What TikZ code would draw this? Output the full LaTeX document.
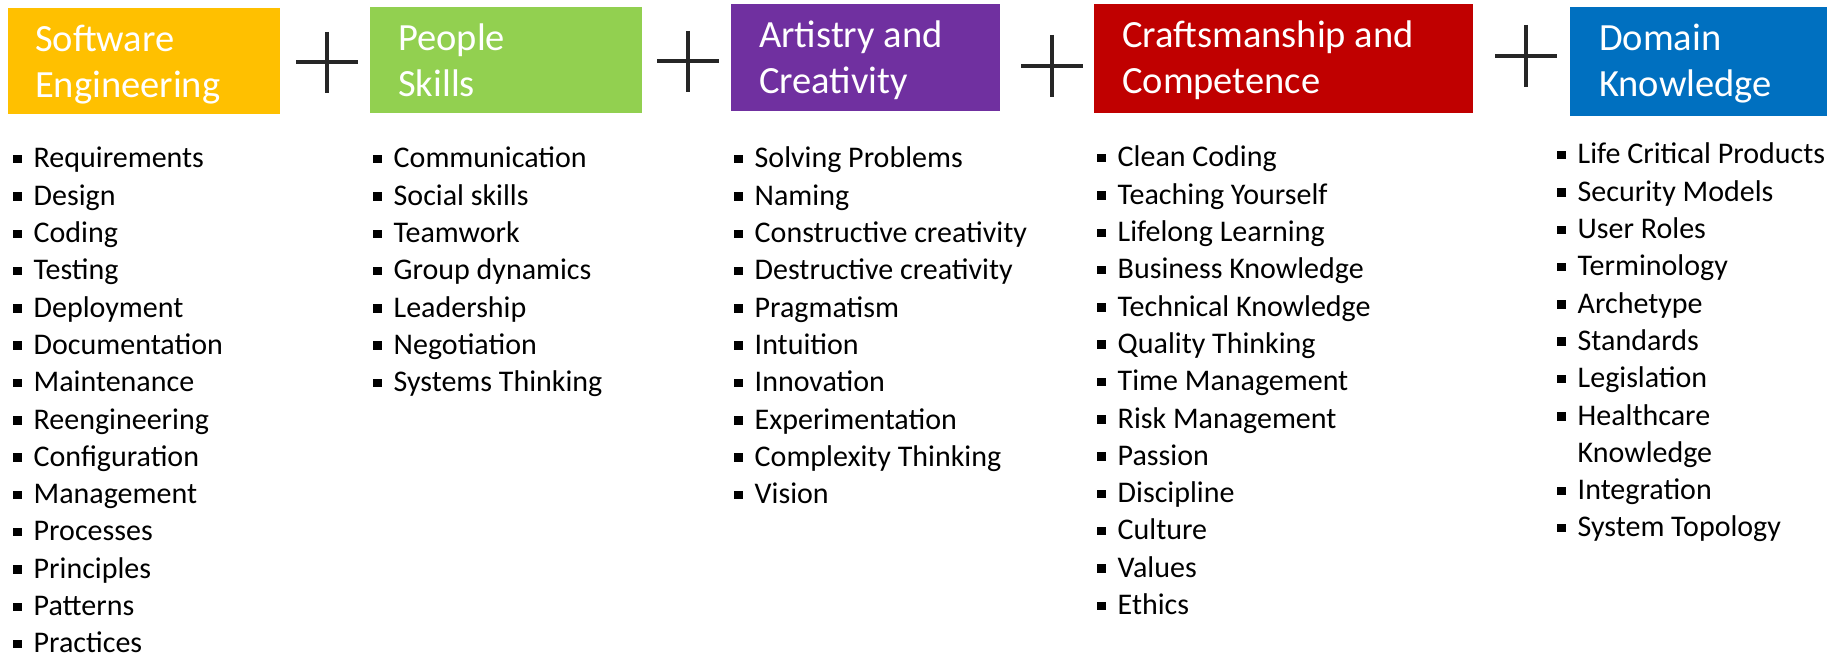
\documentclass[tikz,border=0pt]{standalone}
\usepackage{fontspec}
\setmainfont{Carlito}
\definecolor{seyellow}{HTML}{FFC000}
\definecolor{ppgreen}{HTML}{92D050}
\definecolor{acpurple}{HTML}{7030A0}
\definecolor{ccred}{HTML}{C00000}
\definecolor{dkblue}{HTML}{0070C0}
\definecolor{plusgray}{HTML}{262626}
% square bullet followed by the item text
\newcommand{\bitem}[1]{\makebox[20.5pt][l]{\raisebox{4.5pt}{\rule{8.5pt}{8.5pt}}}#1}
\newcommand{\bcont}[1]{\hspace*{20.5pt}#1}
% stacked lines whose baseline is the first line
\newcommand{\toplines}[1]{\begin{tabular}[t]{@{}l@{}}#1\end{tabular}}
\begin{document}
\begin{tikzpicture}[x=1pt,y=-1pt,
  hdrbox/.style={rectangle, draw=none, inner sep=0pt, anchor=north west},
  hdrtext/.style={text=white, inner sep=0pt, anchor=base west,
    font=\fontsize{38.5}{46}\selectfont},
  listcol/.style={inner sep=0pt, anchor=base west,
    font=\fontsize{30}{37.3}\selectfont},
  plussign/.style={draw=plusgray, line width=4.5pt}]
\fill[white] (0,0) rectangle (1839,655);
\useasboundingbox (0,0) rectangle (1839,655);

% category boxes
\node[hdrbox, fill=seyellow, minimum width=272pt, minimum height=106pt] (se) at (8,8) {};
\node[hdrbox, fill=ppgreen, minimum width=272pt, minimum height=106pt] (ps) at (370,7) {};
\node[hdrbox, fill=acpurple, minimum width=269pt, minimum height=107pt] (ac) at (731,4) {};
\node[hdrbox, fill=ccred, minimum width=379pt, minimum height=109pt] (cc) at (1094,4) {};
\node[hdrbox, fill=dkblue, minimum width=257pt, minimum height=109pt] (dk) at (1570,7) {};

% category titles
\node[hdrtext] (set) at ([xshift=27pt,yshift=-44pt]se.north west) {\toplines{Software\\Engineering}};
\node[hdrtext] (pst) at ([xshift=28pt,yshift=-44pt]ps.north west) {\toplines{People\\Skills}};
\node[hdrtext] (act) at ([xshift=28pt,yshift=-44pt]ac.north west) {\toplines{Artistry and\\Creativity}};
\node[hdrtext] (cct) at ([xshift=28pt,yshift=-44pt]cc.north west) {\toplines{Craftsmanship and\\Competence}};
\node[hdrtext] (dkt) at ([xshift=29pt,yshift=-44pt]dk.north west) {\toplines{Domain\\Knowledge}};

% plus signs between the boxes
\draw[plussign] (327,32) -- (327,93) (296,62) -- (358,62);
\draw[plussign] (688,31) -- (688,92) (657,61) -- (719,61);
\draw[plussign] (1052,35) -- (1052,97) (1021,66) -- (1083,66);
\draw[plussign] (1526,25) -- (1526,87) (1495,56) -- (1557,56);

% item lists
\node[listcol] (l1) at (13,168) {\toplines{\bitem{Requirements}\\ \bitem{Design}\\ \bitem{Coding}\\
  \bitem{Testing}\\ \bitem{Deployment}\\ \bitem{Documentation}\\ \bitem{Maintenance}\\
  \bitem{Reengineering}\\ \bitem{Configuration}\\ \bitem{Management}\\ \bitem{Processes}\\
  \bitem{Principles}\\ \bitem{Patterns}\\ \bitem{Practices}}};
\node[listcol] (l2) at (373,168) {\toplines{\bitem{Communication}\\ \bitem{Social skills}\\ \bitem{Teamwork}\\
  \bitem{Group dynamics}\\ \bitem{Leadership}\\ \bitem{Negotiation}\\ \bitem{Systems Thinking}}};
\node[listcol] (l3) at (734,168) {\toplines{\bitem{Solving Problems}\\ \bitem{Naming}\\ \bitem{Constructive creativity}\\
  \bitem{Destructive creativity}\\ \bitem{Pragmatism}\\ \bitem{Intuition}\\ \bitem{Innovation}\\
  \bitem{Experimentation}\\ \bitem{Complexity Thinking}\\ \bitem{Vision}}};
\node[listcol] (l4) at (1097,167) {\toplines{\bitem{Clean Coding}\\ \bitem{Teaching Yourself}\\ \bitem{Lifelong Learning}\\
  \bitem{Business Knowledge}\\ \bitem{Technical Knowledge}\\ \bitem{Quality Thinking}\\
  \bitem{Time Management}\\ \bitem{Risk Management}\\ \bitem{Passion}\\ \bitem{Discipline}\\
  \bitem{Culture}\\ \bitem{Values}\\ \bitem{Ethics}}};
\node[listcol] (l5) at (1557,164) {\toplines{\bitem{Life Critical Products}\\ \bitem{Security Models}\\ \bitem{User Roles}\\
  \bitem{Terminology}\\ \bitem{Archetype}\\ \bitem{Standards}\\ \bitem{Legislation}\\
  \bitem{Healthcare}\\ \bcont{Knowledge}\\ \bitem{Integration}\\ \bitem{System Topology}}};
\end{tikzpicture}
\end{document}
